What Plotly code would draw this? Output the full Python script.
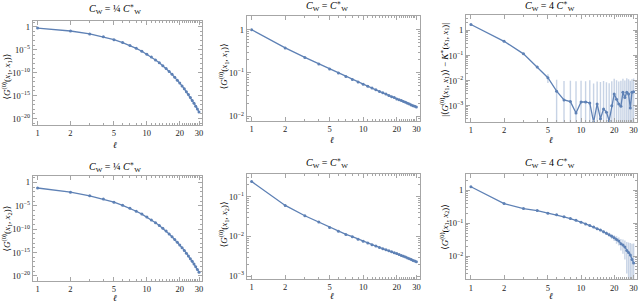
import plotly.graph_objects as go

ell = list(range(1, 31))

# top row: <G(x1,x1)>
g11_quarter = [5.0e-1, 1.17e-1, 2.75e-2, 6.5e-3, 1.51e-3, 3.5e-4, 8.3e-5, 1.95e-5, 4.6e-6, 1.07e-6,
               2.5e-7, 5.9e-8, 1.38e-8, 3.2e-9, 7.6e-10, 1.78e-10, 4.2e-11, 9.8e-12, 2.3e-12, 5.4e-13,
               1.26e-13, 2.95e-14, 6.9e-15, 1.62e-15, 3.8e-16, 8.9e-17, 2.1e-17, 4.9e-18, 1.15e-18, 2.7e-19]
g11_crit = [1.0, 0.38, 0.229, 0.162, 0.123, 0.100, 0.083, 0.0708, 0.0617, 0.055,
            0.049, 0.0447, 0.0407, 0.0372, 0.0347, 0.0324, 0.0302, 0.0282, 0.0269, 0.0251,
            0.024, 0.0229, 0.0219, 0.0209, 0.0200, 0.0191, 0.0182, 0.0174, 0.0170, 0.0162]
g11_four_diff = [1.74, 0.37, 0.117, 0.035, 0.013, 0.0038, 0.0017, 0.00145, 0.00051, 0.0014,
                 0.0014, 0.00128, 0.00022, 0.00117, 0.0003, 0.00074, 0.00055, 0.00025, 0.001, 0.0029,
                 0.0018, 0.00117, 0.00094, 0.0034, 0.0021, 0.0034, 0.0029, 0.0008, 0.0034, 0.0036]
g11_four_err = [0.02, 0.008, 0.004, 0.002, 0.005, 0.007, 0.008, 0.0085, 0.009, 0.0085,
                0.008, 0.009, 0.0075, 0.008, 0.0085, 0.009, 0.008, 0.0075, 0.0085, 0.009,
                0.0085, 0.008, 0.009, 0.0085, 0.008, 0.009, 0.0085, 0.009, 0.008, 0.0085]

# bottom row: <G(x1,x2)>
g12_quarter = [6.3e-2, 7.9e-3, 1.35e-3, 2.7e-4, 5.8e-5, 1.29e-5, 2.95e-6, 6.9e-7, 1.66e-7, 4.0e-8,
               9.8e-9, 2.45e-9, 6.2e-10, 1.55e-10, 3.9e-11, 9.8e-12, 2.5e-12, 6.5e-13, 1.66e-13, 4.3e-14,
               1.12e-14, 2.9e-15, 7.6e-16, 1.95e-16, 5.1e-17, 1.35e-17, 3.5e-18, 9.1e-19, 2.4e-19, 6.3e-20]
g12_crit = [0.24, 0.060, 0.033, 0.0229, 0.0166, 0.0135, 0.0112, 0.0098, 0.0085, 0.0075,
            0.00676, 0.00617, 0.00569, 0.00525, 0.0049, 0.00457, 0.00431, 0.00407, 0.00389, 0.00372,
            0.00351, 0.00331, 0.00316, 0.00302, 0.00285, 0.00272, 0.0026, 0.00248, 0.0024, 0.00229]
g12_four = [1.26, 0.39, 0.275, 0.24, 0.20, 0.178, 0.155, 0.138, 0.123, 0.107,
            0.095, 0.085, 0.076, 0.068, 0.062, 0.055, 0.050, 0.045, 0.040, 0.036,
            0.032, 0.029, 0.024, 0.022, 0.019, 0.015, 0.013, 0.011, 0.008, 0.0063]
g12_four_err = [0.03, 0.01, 0.008, 0.007, 0.006, 0.006, 0.006, 0.005, 0.005, 0.005,
                0.005, 0.005, 0.005, 0.005, 0.005, 0.005, 0.006, 0.006, 0.007, 0.007,
                0.008, 0.008, 0.009, 0.010, 0.011, 0.012, 0.013, 0.014, 0.016, 0.018]

x_ticks = [1, 2, 5, 10, 20, 30]
x_minor = [3, 4, 6, 7, 8, 9] + list(range(11, 20)) + list(range(21, 30))

W, H = 640, 305
BLUE = "#5E81B5"
FRAME = "#a6a6a6"
SERIF = "Liberation Serif, DejaVu Serif, serif"
TXT = "#000000"

def sup(e):
    return "1" if e == 0 else "10<sup>\u2212%d</sup>" % (-e)

panels = [
    dict(y=g11_quarter, err=None, box=(32.7, 202.7, 21, 126), yr=(-21.45, 1.28),
         major=[0, -5, -10, -15, -20], minor="decade", title="quarter", ylab="11",
         tpos=(115, 9), ypos=(7, 77), xpos=(115, 146)),
    dict(y=g11_crit, err=None, box=(247, 420.5, 16, 121.7), yr=(-2.11, 0.32),
         major=[0, -1, -2], minor="fine", title="crit", ylab="11",
         tpos=(328, 6), ypos=(224, 67), xpos=(333, 141)),
    dict(y=g11_four_diff, err=g11_four_err, box=(466.7, 638, 15.3, 123), yr=(-3.66, 0.61),
         major=[0, -1, -2, -3], minor="fine", title="four", ylab="diff",
         tpos=(551, 6), ypos=(445, 70), xpos=(552, 141)),
    dict(y=g12_quarter, err=None, box=(32.7, 202.7, 177, 283), yr=(-21.1, 1.4),
         major=[0, -5, -10, -15, -20], minor="decade", title="quarter", ylab="12",
         tpos=(115, 168), ypos=(7, 230), xpos=(115, 300)),
    dict(y=g12_crit, err=None, box=(247, 420.5, 174.7, 280.7), yr=(-3.07, -0.42),
         major=[-1, -2, -3], minor="fine", title="crit", ylab="12",
         tpos=(328, 164), ypos=(224, 226), xpos=(333, 298)),
    dict(y=g12_four, err=g12_four_err, box=(466.7, 638, 175.3, 281.3), yr=(-2.70, 0.48),
         major=[0, -1, -2], minor="fine", title="four", ylab="12",
         tpos=(551, 164), ypos=(445, 228), xpos=(552, 298)),
]

CW = "<i>C</i><sub>W</sub>"
CWS = "<i>C</i><sup>∗</sup><sub>W</sub>"
titles = {
    "quarter": CW + " = ¼ " + CWS,
    "crit": CW + " = " + CWS,
    "four": CW + " = 4 " + CWS,
}
ylabels = {
    "11": "⟨<i>G</i><sup>(0)</sup>(<i>x</i><sub>1</sub>, <i>x</i><sub>1</sub>)⟩",
    "12": "⟨<i>G</i><sup>(0)</sup>(<i>x</i><sub>1</sub>, <i>x</i><sub>2</sub>)⟩",
    "diff": "|⟨<i>G</i><sup>(0)</sup>(<i>x</i><sub>1</sub>, <i>x</i><sub>1</sub>)⟩ − <i>K</i><sup>∗</sup>(<i>x</i><sub>1</sub>, <i>x</i><sub>1</sub>)|",
}

fig = go.Figure()
annotations = []
layout = {}
for i, p in enumerate(panels, start=1):
    xa = "x" if i == 1 else "x%d" % i
    ya = "y" if i == 1 else "y%d" % i
    kw = dict(x=ell, y=p["y"], mode="lines+markers", xaxis=xa, yaxis=ya, showlegend=False,
              line=dict(color=BLUE, width=1.3), marker=dict(color=BLUE, size=3))
    if p["err"] is not None:
        kw["error_y"] = dict(type="data", array=p["err"], visible=True, color="rgba(94,129,181,0.35)",
                             thickness=1.4, width=0)
    fig.add_trace(go.Scatter(**kw))

    x0, x1, y0, y1 = p["box"]
    dx = [x0 / W, x1 / W]
    dy = [1 - y1 / H, 1 - y0 / H]
    xr = [-0.045, 1.508]
    if p["minor"] == "decade":
        ymin = [10.0 ** e for e in range(0, -22, -1)] + [10.0]
    else:
        ymin = [m * 10.0 ** e for e in range(-4, 1) for m in range(2, 10)]
    axcommon = dict(showgrid=False, zeroline=False, showline=True, linecolor=FRAME, linewidth=1,
                    mirror="allticks", ticks="inside", ticklen=4, tickcolor=FRAME, tickwidth=1,
                    tickfont=dict(family=SERIF, size=8.5, color="#222"))
    layout["xaxis" if i == 1 else "xaxis%d" % i] = dict(
        type="log", domain=dx, range=xr, anchor=ya, tickmode="array", tickvals=x_ticks,
        ticktext=[str(v) for v in x_ticks],
        minor=dict(tickmode="array", tickvals=x_minor, ticks="inside", ticklen=2, tickcolor=FRAME, showgrid=False),
        **axcommon)
    layout["yaxis" if i == 1 else "yaxis%d" % i] = dict(
        type="log", domain=dy, range=list(p["yr"]), anchor=xa, tickmode="array",
        tickvals=[10.0 ** e for e in p["major"]], ticktext=[sup(e) for e in p["major"]],
        minor=dict(tickmode="array", tickvals=ymin, ticks="inside", ticklen=2, tickcolor=FRAME, showgrid=False),
        **axcommon)

    annotations.append(dict(text=titles[p["title"]], x=p["tpos"][0] / W, y=1 - p["tpos"][1] / H,
                            xref="paper", yref="paper", showarrow=False, xanchor="center", yanchor="middle",
                            font=dict(family=SERIF, size=10, color=TXT)))
    annotations.append(dict(text=ylabels[p["ylab"]], x=p["ypos"][0] / W, y=1 - p["ypos"][1] / H,
                            xref="paper", yref="paper", showarrow=False, textangle=-90,
                            xanchor="center", yanchor="middle",
                            font=dict(family=SERIF, size=9, color=TXT)))
    annotations.append(dict(text="<i>ℓ</i>", x=p["xpos"][0] / W, y=1 - p["xpos"][1] / H,
                            xref="paper", yref="paper", showarrow=False, xanchor="center", yanchor="middle",
                            font=dict(family=SERIF, size=9, color=TXT)))

fig.update_layout(width=W, height=H, margin=dict(l=0, r=0, t=0, b=0),
                  paper_bgcolor="white", plot_bgcolor="white", annotations=annotations, **layout)
fig.write_html("out.html", config={"displayModeBar": False},
               post_script="document.body.style.margin='0px';document.body.style.overflow='hidden';")
